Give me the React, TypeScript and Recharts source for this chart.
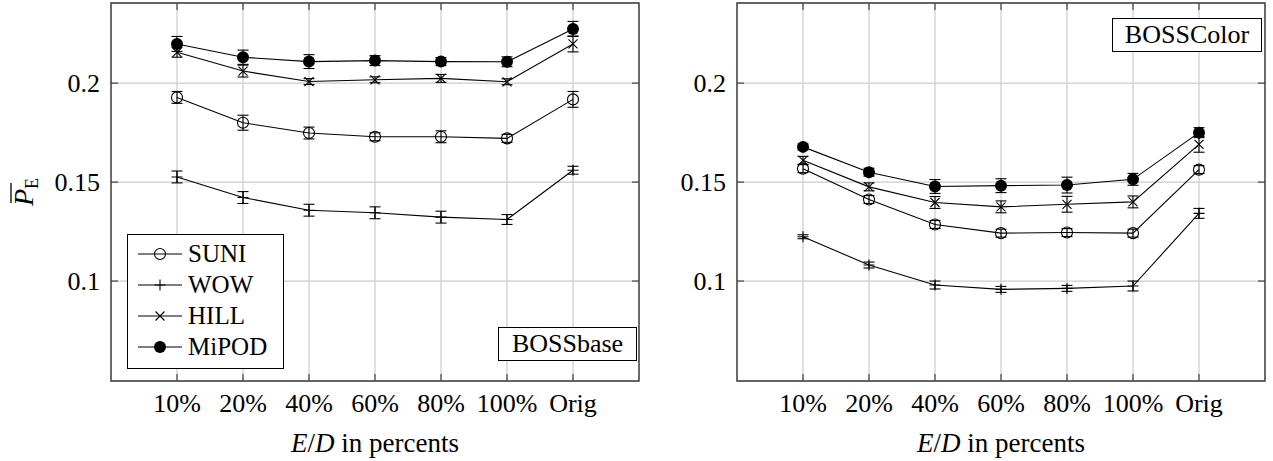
import { LineChart, Line, XAxis, YAxis, CartesianGrid, ErrorBar, ReferenceArea, Legend } from 'recharts';

const categories = ['10%', '20%', '40%', '60%', '80%', '100%', 'Orig'];
const yTicks = [0.1, 0.15, 0.2];
const seriesNames = ['SUNI', 'WOW', 'HILL', 'MiPOD'];
const shapes = ['circle', 'plus', 'cross', 'disc'];

// BOSSbase
const suniBase = [0.1928, 0.18, 0.1748, 0.1729, 0.1729, 0.1721, 0.1918];
const suniBaseErr = [0.003, 0.0038, 0.003, 0.002, 0.003, 0.002, 0.004];
const wowBase = [0.1526, 0.1422, 0.1358, 0.1345, 0.1323, 0.1311, 0.156];
const wowBaseErr = [0.003, 0.003, 0.003, 0.003, 0.003, 0.0025, 0.002];
const hillBase = [0.2156, 0.2061, 0.2008, 0.2017, 0.2024, 0.2007, 0.2198];
const hillBaseErr = [0.0025, 0.003, 0.0015, 0.0015, 0.002, 0.0015, 0.004];
const mipodBase = [0.2198, 0.2131, 0.2109, 0.2114, 0.2109, 0.2108, 0.2274];
const mipodBaseErr = [0.0038, 0.0036, 0.0035, 0.0025, 0.002, 0.0025, 0.0038];

// BOSSColor
const suniColor = [0.1568, 0.1412, 0.1286, 0.1242, 0.1245, 0.1242, 0.1563];
const suniColorErr = [0.002, 0.002, 0.002, 0.002, 0.002, 0.002, 0.002];
const wowColor = [0.1224, 0.1081, 0.098, 0.0958, 0.0963, 0.0975, 0.1342];
const wowColorErr = [0.001, 0.0015, 0.002, 0.0015, 0.0015, 0.0025, 0.0025];
const hillColor = [0.161, 0.1476, 0.1397, 0.1375, 0.1388, 0.14, 0.1691];
const hillColorErr = [0.002, 0.002, 0.003, 0.003, 0.004, 0.003, 0.004];
const mipodColor = [0.1678, 0.155, 0.1478, 0.1482, 0.1485, 0.1514, 0.175];
const mipodColorErr = [0.0015, 0.002, 0.0035, 0.0035, 0.004, 0.003, 0.0025];

const FONT = "'Liberation Serif', 'Times New Roman', Times, 'DejaVu Serif', 'Noto Serif', FreeSerif, Tinos, serif";
const Y_DOMAIN: [number, number] = [0.0495, 0.2405];
const PLOT_W = 528;
const PLOT_H = 378;

function buildRows(values: number[][], errors: number[][]) {
  return categories.map((c, i) => {
    const row: any = { x: i, label: c };
    seriesNames.forEach((s, k) => {
      row[s] = values[k][i];
      row[s + 'Err'] = errors[k][i];
    });
    return row;
  });
}

const baseRows = buildRows([suniBase, wowBase, hillBase, mipodBase], [suniBaseErr, wowBaseErr, hillBaseErr, mipodBaseErr]);
const colorRows = buildRows([suniColor, wowColor, hillColor, mipodColor], [suniColorErr, wowColorErr, hillColorErr, mipodColorErr]);

function Marker({ shape, cx, cy }: any) {
  if (cx == null || cy == null) return null;
  if (shape === 'circle') return <circle cx={cx} cy={cy} r={5.5} fill="none" stroke="#000" strokeWidth={1.1} />;
  if (shape === 'disc') return <circle cx={cx} cy={cy} r={6} fill="#000" />;
  if (shape === 'plus')
    return (
      <path d={`M${cx - 5.5},${cy}H${cx + 5.5}M${cx},${cy - 5.5}V${cy + 5.5}`} stroke="#000" strokeWidth={1.1} />
    );
  return (
    <path
      d={`M${cx - 4.5},${cy - 4.5}L${cx + 4.5},${cy + 4.5}M${cx - 4.5},${cy + 4.5}L${cx + 4.5},${cy - 4.5}`}
      stroke="#000"
      strokeWidth={1.1}
    />
  );
}

function XTick({ x, y, payload }: any) {
  return (
    <g>
      <line x1={x} x2={x} y1={y} y2={y - 7} stroke="#444" strokeWidth={1.2} />
      <line x1={x} x2={x} y1={y - PLOT_H} y2={y - PLOT_H + 7} stroke="#444" strokeWidth={1.2} />
      <text x={x} y={y + 31} textAnchor="middle" style={{ fontFamily: FONT }} fontSize={26} fill="#000">
        {categories[payload.value]}
      </text>
    </g>
  );
}

function YTick({ x, y, payload }: any) {
  const left = x + 11;
  return (
    <g>
      <line x1={left} x2={left + 7} y1={y} y2={y} stroke="#444" strokeWidth={1.2} />
      <line x1={left + PLOT_W} x2={left + PLOT_W - 7} y1={y} y2={y} stroke="#444" strokeWidth={1.2} />
      <text x={x} y={y + 9} textAnchor="end" style={{ fontFamily: FONT }} fontSize={26} fill="#000">
        {String(payload.value)}
      </text>
    </g>
  );
}

function XLabel({ viewBox }: any) {
  return (
    <text
      x={viewBox.x + viewBox.width / 2}
      y={viewBox.y + 71}
      textAnchor="middle"
      style={{ fontFamily: FONT }}
      fontSize={27}
      fill="#000"
    >
      <tspan fontStyle="italic">E</tspan>
      <tspan>/</tspan>
      <tspan fontStyle="italic">D</tspan>
      <tspan> in percents</tspan>
    </text>
  );
}

function YLabel({ viewBox }: any) {
  const cx = viewBox.x + 33;
  const cy = viewBox.y + viewBox.height / 2;
  return (
    <g transform={`rotate(-90, ${cx}, ${cy})`}>
      <line x1={cx - 11} x2={cx + 9} y1={cy - 22} y2={cy - 22} stroke="#000" strokeWidth={1.3} />
      <text x={cx} y={cy} textAnchor="middle" style={{ fontFamily: FONT }} fontSize={28} fill="#000">
        <tspan fontStyle="italic">P</tspan>
        <tspan fontSize={18} dy={5}>E</tspan>
      </text>
    </g>
  );
}

function LegendBox() {
  return (
    <div
      style={{
        width: 157,
        height: 135,
        boxSizing: 'border-box',
        border: '1px solid #000',
        background: '#fff',
        position: 'relative',
        fontFamily: FONT,
        fontSize: 25,
      }}
    >
      {seriesNames.map((s, k) => (
        <div key={s} style={{ position: 'absolute', left: 0, top: 19 + k * 31 - 15, height: 30, display: 'flex', alignItems: 'center' }}>
          <svg width={60} height={30}>
            <line x1={10} x2={54} y1={15} y2={15} stroke="#000" strokeWidth={1.1} />
            <Marker shape={shapes[k]} cx={32} cy={15} />
          </svg>
          <span style={{ lineHeight: '30px' }}>{s}</span>
        </div>
      ))}
    </div>
  );
}

function Panel({ rows, tag, tagStyle, left, width, axisWidth, marginRight, withLegend, withYLabel }: any) {
  return (
    <div style={{ position: 'absolute', left, top: 0, width, height: 461 }}>
      <LineChart width={width} height={461} data={rows} margin={{ top: 3, right: marginRight, left: 0, bottom: 0 }}>
        <CartesianGrid stroke="#cbcbcb" strokeWidth={1.2} />
        <XAxis
          type="number"
          dataKey="x"
          domain={[-1, 7]}
          ticks={[0, 1, 2, 3, 4, 5, 6]}
          interval={0}
          allowDataOverflow
          axisLine={false}
          tickLine={false}
          tickSize={0}
          tickMargin={0}
          height={80}
          tick={<XTick />}
          label={{ content: (p: any) => <XLabel {...p} /> }}
        />
        <YAxis
          type="number"
          domain={Y_DOMAIN}
          ticks={yTicks}
          allowDataOverflow
          axisLine={false}
          tickLine={false}
          tickSize={0}
          tickMargin={11}
          width={axisWidth}
          tick={<YTick />}
          label={withYLabel ? { content: (p: any) => <YLabel {...p} /> } : undefined}
        />
        {seriesNames.map((s, k) => (
          <Line
            key={s}
            dataKey={s}
            name={s}
            stroke="#000"
            strokeWidth={1.1}
            isAnimationActive={false}
            activeDot={false}
            dot={(p: any) => <Marker key={`${s}-${p.index}`} shape={shapes[k]} cx={p.cx} cy={p.cy} />}
          >
            <ErrorBar dataKey={`${s}Err`} direction="y" width={5.5} stroke="#000" strokeWidth={1.1} isAnimationActive={false} />
          </Line>
        ))}
        <ReferenceArea x1={-1} x2={7} y1={Y_DOMAIN[0]} y2={Y_DOMAIN[1]} fill="none" stroke="#3a3a3a" strokeWidth={1.4} ifOverflow="visible" />
        {withLegend && (
          <Legend
            layout="vertical"
            align="center"
            verticalAlign="middle"
            content={<LegendBox />}
            wrapperStyle={{ left: 127, top: 234, width: 157, height: 135 }}
          />
        )}
      </LineChart>
      <div
        style={{
          position: 'absolute',
          boxSizing: 'border-box',
          border: '1px solid #000',
          background: '#fff',
          fontFamily: FONT,
          fontSize: 26,
          display: 'flex',
          alignItems: 'center',
          justifyContent: 'center',
          ...tagStyle,
        }}
      >
        {tag}
      </div>
    </div>
  );
}

export default function App() {
  return (
    <div style={{ position: 'absolute', left: 0, top: 0, width: 1273, height: 461, background: '#fff', fontFamily: FONT }}>
      <Panel
        rows={baseRows}
        tag="BOSSbase"
        tagStyle={{ left: 498, top: 327, width: 139, height: 34 }}
        left={0}
        width={645}
        axisWidth={111}
        marginRight={6}
        withLegend
        withYLabel
      />
      <Panel
        rows={colorRows}
        tag="BOSSColor"
        tagStyle={{ left: 472, top: 18, width: 150, height: 34 }}
        left={640}
        width={633}
        axisWidth={97}
        marginRight={8}
      />
    </div>
  );
}
